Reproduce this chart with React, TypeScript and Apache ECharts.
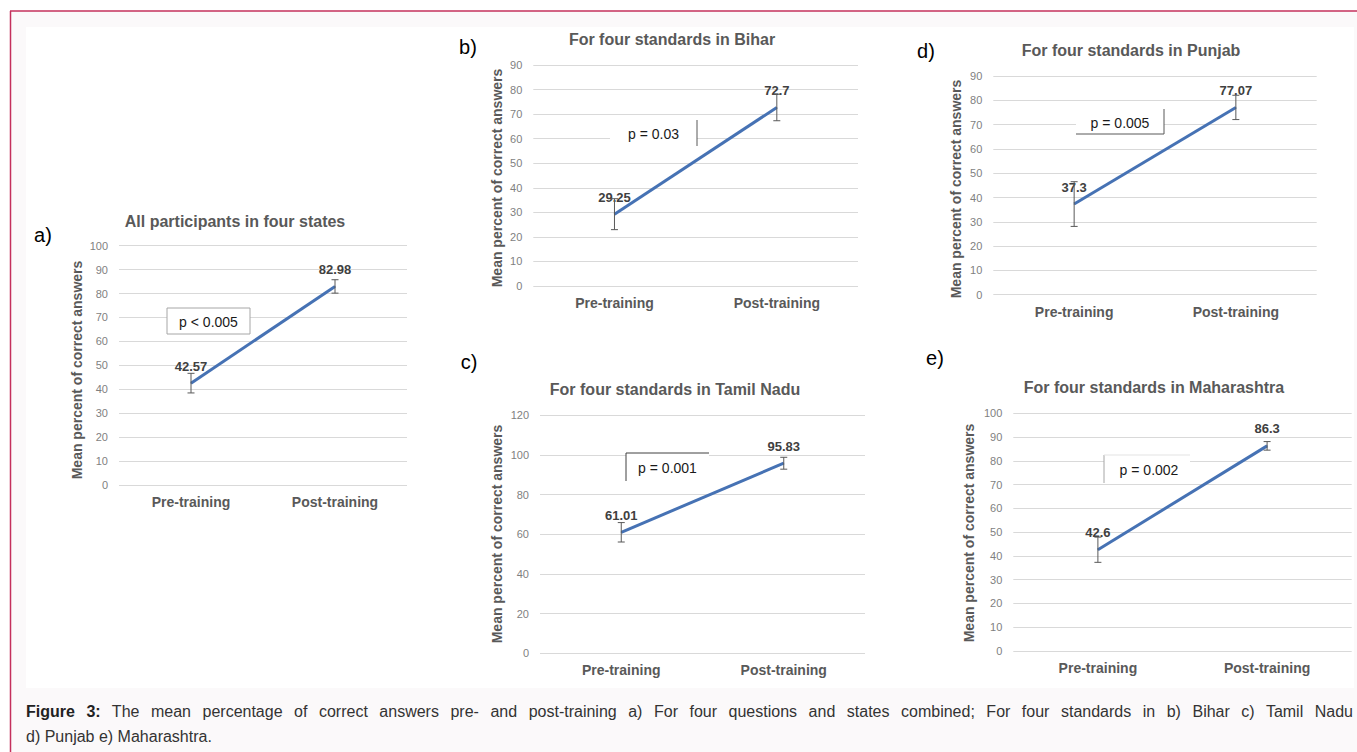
import React, { useEffect, useRef } from "react";
import * as echarts from "echarts";

// ---- data ----
const categories = ["Pre-training", "Post-training"];

const titles = [
  "All participants in four states",
  "For four standards in Bihar",
  "For four standards in Tamil Nadu",
  "For four standards in Punjab",
  "For four standards in Maharashtra",
];
const panelLetters = ["a)", "b)", "c)", "d)", "e)"];

const meansA = [42.57, 82.98];
const meansB = [29.25, 72.7];
const meansC = [61.01, 95.83];
const meansD = [37.3, 77.07];
const meansE = [42.6, 86.3];

const errA = [4.1, 2.8];
const errB = [6.3, 5.4];
const errC = [4.9, 3.0];
const errD = [9.2, 5.0];
const errE = [5.3, 1.8];

const yMaxes = [100, 90, 120, 90, 100];
const yIntervals = [10, 10, 20, 10, 10];

const pTexts = ["p < 0.005", "p = 0.03", "p = 0.001", "p = 0.005", "p = 0.002"];

const yAxisName = "Mean percent of correct answers";

const captionBold = "Figure 3:";
const captionLine1 =
  " The mean percentage of correct answers pre- and post-training a) For four questions and states combined; For four standards in b) Bihar c) Tamil Nadu";
const captionLine2 = "d) Punjab e) Maharashtra.";

const allMeans = [meansA, meansB, meansC, meansD, meansE];
const allErrs = [errA, errB, errC, errD, errE];

// ---- layout (pixels) ----
const grids = [
  { left: 119, top: 245.7, width: 288, height: 239.3 },
  { left: 533.3, top: 65, width: 324.7, height: 221 },
  { left: 540, top: 415.3, width: 325, height: 238 },
  { left: 993.3, top: 76, width: 323.4, height: 218.7 },
  { left: 1013.3, top: 413.3, width: 338.4, height: 237.7 },
];
const titlePos = [
  [235, 221],
  [672, 39],
  [675, 389],
  [1131, 50],
  [1154, 387],
];
const letterPos = [
  [43, 235],
  [468, 47],
  [469, 362],
  [926, 51],
  [935, 358],
];
const yNamePos = [
  [77, 370],
  [497, 178],
  [497, 534],
  [956, 189],
  [969, 533],
];

const FONT = '"Liberation Sans", Arial, sans-serif';
const LINE_COLOR = "#4672b4";
const ERR_COLOR = "#595959";

export default function App() {
  const ref = useRef<HTMLDivElement>(null);

  useEffect(() => {
    if (!ref.current) return;
    const chart = echarts.init(ref.current, undefined, { renderer: "svg" });

    const xAxis = grids.map((_, i) => ({
      type: "category",
      gridIndex: i,
      data: categories,
      boundaryGap: true,
      axisLine: { show: false },
      axisTick: { show: false },
      axisLabel: {
        fontFamily: FONT,
        fontSize: 14,
        fontWeight: "bold",
        color: "#595959",
        margin: 10,
      },
    }));

    const yAxis = grids.map((_, i) => ({
      type: "value",
      gridIndex: i,
      min: 0,
      max: yMaxes[i],
      interval: yIntervals[i],
      axisLine: { show: false },
      axisTick: { show: false },
      splitLine: { lineStyle: { color: "#d9d9d9", width: 1 } },
      axisLabel: { fontFamily: FONT, fontSize: 11, color: "#7f7f7f", margin: 11 },
    }));

    const series: any[] = [];
    allMeans.forEach((means, i) => {
      series.push({
        type: "line",
        xAxisIndex: i,
        yAxisIndex: i,
        data: means,
        symbol: "circle",
        symbolSize: 1,
        showSymbol: true,
        itemStyle: { color: LINE_COLOR },
        lineStyle: { color: LINE_COLOR, width: 3 },
        z: 3,
        label: {
          show: true,
          position: "top",
          distance: 10,
          fontFamily: FONT,
          fontSize: 13,
          fontWeight: "bold",
          color: "#404040",
          formatter: (p: any) => String(p.value),
        },
      });
      series.push({
        type: "custom",
        xAxisIndex: i,
        yAxisIndex: i,
        z: 4,
        encode: { x: 0, y: [1, 2] },
        data: means.map((m, k) => [k, m - allErrs[i][k], m + allErrs[i][k]]),
        renderItem: (params: any, api: any) => {
          const x = api.value(0);
          const pLo = api.coord([x, api.value(1)]);
          const pHi = api.coord([x, api.value(2)]);
          const cap = 3.5;
          const st = { stroke: ERR_COLOR, lineWidth: 1 };
          return {
            type: "group",
            children: [
              { type: "line", shape: { x1: pHi[0], y1: pHi[1], x2: pLo[0], y2: pLo[1] }, style: st },
              { type: "line", shape: { x1: pHi[0] - cap, y1: pHi[1], x2: pHi[0] + cap, y2: pHi[1] }, style: st },
              { type: "line", shape: { x1: pLo[0] - cap, y1: pLo[1], x2: pLo[0] + cap, y2: pLo[1] }, style: st },
            ],
          };
        },
      });
    });

    const graphic: any[] = [];
    // page background + frame
    graphic.push({ type: "rect", z: -10, shape: { x: 10, y: 11, width: 1347, height: 741 }, style: { fill: "#fbf9fa" } });
    graphic.push({ type: "rect", z: -9, shape: { x: 26, y: 27, width: 1328, height: 661 }, style: { fill: "#ffffff" } });
    graphic.push({ type: "line", z: 50, shape: { x1: 10, y1: 11, x2: 1357, y2: 11 }, style: { stroke: "#c4305c", lineWidth: 1.5 } });
    graphic.push({ type: "line", z: 50, shape: { x1: 10.5, y1: 11, x2: 10.5, y2: 752 }, style: { stroke: "#c4305c", lineWidth: 1.5 } });

    titles.forEach((t, i) => {
      graphic.push({
        type: "text",
        z: 20,
        x: titlePos[i][0],
        y: titlePos[i][1],
        style: { text: t, fill: "#595959", font: `bold 16px ${FONT}`, align: "center", verticalAlign: "middle" },
      });
      graphic.push({
        type: "text",
        z: 20,
        x: letterPos[i][0],
        y: letterPos[i][1],
        style: { text: panelLetters[i], fill: "#000000", font: `20px ${FONT}`, align: "center", verticalAlign: "middle" },
      });
      graphic.push({
        type: "text",
        z: 20,
        x: yNamePos[i][0],
        y: yNamePos[i][1],
        rotation: Math.PI / 2,
        style: { text: yAxisName, fill: "#595959", font: `bold 14px ${FONT}`, align: "center", verticalAlign: "middle" },
      });
    });

    // p-value annotation boxes
    const pBoxes = [
      { x: 167, y: 308, w: 83, h: 26, sides: ["t", "r", "b", "l"], c: "#a6a6a6" },
      { x: 610, y: 120, w: 87, h: 26, sides: ["r"], c: "#595959" },
      { x: 626, y: 453, w: 83, h: 28, sides: ["t", "l"], c: "#404040" },
      { x: 1076, y: 109, w: 88, h: 25, sides: ["r", "b"], c: "#595959" },
      { x: 1104, y: 455, w: 86, h: 28, sides: ["l"], c: "#a6a6a6" },
    ];
    pBoxes.forEach((b, i) => {
      graphic.push({ type: "rect", z: 10, shape: { x: b.x, y: b.y, width: b.w, height: b.h }, style: { fill: "#ffffff" } });
      const segs: Record<string, number[]> = {
        t: [b.x, b.y, b.x + b.w, b.y],
        b: [b.x, b.y + b.h, b.x + b.w, b.y + b.h],
        l: [b.x, b.y, b.x, b.y + b.h],
        r: [b.x + b.w, b.y, b.x + b.w, b.y + b.h],
      };
      b.sides.forEach((s) => {
        const g = segs[s];
        graphic.push({ type: "line", z: 11, shape: { x1: g[0], y1: g[1], x2: g[2], y2: g[3] }, style: { stroke: b.c, lineWidth: 1 } });
      });
      if (i === 4) {
        graphic.push({ type: "line", z: 11, shape: { x1: b.x, y1: b.y, x2: b.x + b.w, y2: b.y }, style: { stroke: "#e3e3e3", lineWidth: 1 } });
      }
      graphic.push({
        type: "text",
        z: 12,
        x: b.x + b.w / 2 + (i === 4 ? 2 : 0),
        y: b.y + b.h / 2 + 1,
        style: { text: pTexts[i], fill: "#1a1a1a", font: `14px ${FONT}`, align: "center", verticalAlign: "middle" },
      });
    });

    chart.setOption({
      animation: false,
      backgroundColor: "#ffffff",
      grid: grids.map((g) => ({ ...g, containLabel: false })),
      xAxis,
      yAxis,
      series,
      graphic,
    });

    return () => chart.dispose();
  }, []);

  const captionStyle: React.CSSProperties = {
    position: "absolute",
    left: "26px",
    width: "1327px",
    fontFamily: FONT,
    fontSize: "16px",
    lineHeight: "25px",
    color: "#333333",
    whiteSpace: "normal",
  };

  return (
    <div style={{ position: "absolute", left: 0, top: 0, width: "1357px", height: "752px" }}>
      <div ref={ref} style={{ position: "absolute", left: 0, top: 0, width: "1357px", height: "752px" }} />
      <div style={{ ...captionStyle, top: "699px", textAlign: "justify", textAlignLast: "justify" }}>
        <b style={{ color: "#222222" }}>{captionBold}</b>
        {captionLine1}
      </div>
      <div style={{ ...captionStyle, top: "724px", textAlign: "left" }}>{captionLine2}</div>
    </div>
  );
}
